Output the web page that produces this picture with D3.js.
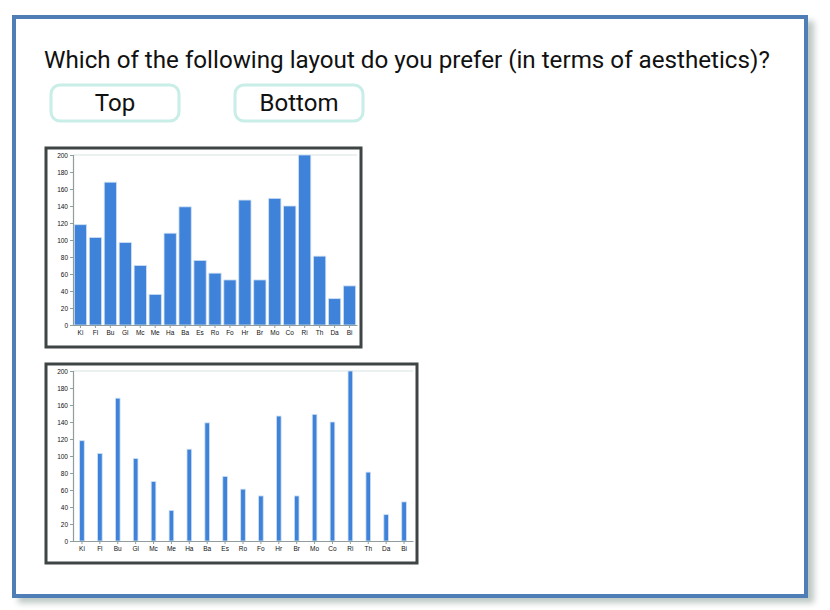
<!DOCTYPE html>
<html>
<head>
<meta charset="utf-8">
<script src="https://cdn.jsdelivr.net/npm/d3@7"></script>
<style>
  body { margin: 0; background: #fff; font-family: Roboto, sans-serif; }
</style>
</head>
<body>
<div id="chart"></div>
<script>
const categories = ["Ki", "Fl", "Bu", "Gl", "Mc", "Me", "Ha", "Ba", "Es", "Ro", "Fo", "Hr", "Br", "Mo", "Co", "Ri", "Th", "Da", "Bi"];
const values = [118, 103, 168, 97, 70, 36, 108, 139, 76, 61, 53, 147, 53, 149, 140, 200, 81, 31, 46];
const yTicks = [0, 20, 40, 60, 80, 100, 120, 140, 160, 180, 200];
const question = "Which of the following layout do you prefer (in terms of aesthetics)?";
const choices = ["Top", "Bottom"];

const width = 830;
const height = 610;

const svg = d3.select("#chart")
  .append("svg")
  .attr("width", width)
  .attr("height", height);

// Shadow behind card
const defs = svg.append("defs");
const blur = defs.append("filter").attr("id", "shadow")
  .attr("x", "-5%").attr("y", "-5%").attr("width", "115%").attr("height", "115%");
blur.append("feGaussianBlur").attr("stdDeviation", 3);

svg.append("rect")
  .attr("x", 18).attr("y", 21).attr("width", 796).attr("height", 582)
  .attr("fill", "#8fa29a").attr("opacity", 0.6)
  .attr("filter", "url(#shadow)");

// Card
svg.append("rect")
  .attr("x", 14).attr("y", 17).attr("width", 792).attr("height", 579)
  .attr("fill", "#fff")
  .attr("stroke", "#4f7db6").attr("stroke-width", 4);

svg.append("text")
  .attr("x", 44).attr("y", 68)
  .attr("font-family", "Roboto, sans-serif")
  .attr("font-size", 24.2)
  .attr("fill", "#111")
  .text(question);

const buttons = svg.selectAll("g.btn")
  .data(choices)
  .join("g")
  .attr("class", "btn")
  .attr("transform", (d, i) => `translate(${51 + i * 184}, 85)`);

buttons.append("rect")
  .attr("width", 128).attr("height", 36).attr("rx", 9)
  .attr("fill", "#fff")
  .attr("stroke", "#c9ede7").attr("stroke-width", 3);

buttons.append("text")
  .attr("x", 64).attr("y", 26)
  .attr("text-anchor", "middle")
  .attr("font-family", "Roboto, sans-serif")
  .attr("font-size", 24)
  .attr("fill", "#111")
  .text(d => d);

function barChart(x0, y0, w, h, padding) {
  const g = svg.append("g").attr("transform", `translate(${x0},${y0})`);

  g.append("rect")
    .attr("x", 0).attr("y", 0).attr("width", w).attr("height", h)
    .attr("fill", "#fff")
    .attr("stroke", "#3f4444").attr("stroke-width", 3);

  const m = { left: 27, right: 4, top: 7, bottom: 22 };
  const x = d3.scaleBand()
    .domain(categories)
    .range([m.left, w - m.right])
    .paddingInner(padding)
    .paddingOuter(padding / 2);
  const y = d3.scaleLinear()
    .domain([0, 200])
    .range([h - m.bottom, m.top]);

  // top line of plot area
  g.append("line")
    .attr("x1", m.left).attr("x2", w - m.right)
    .attr("y1", y(200)).attr("y2", y(200))
    .attr("stroke", "#e4ecec").attr("stroke-width", 1.5);

  g.selectAll("rect.bar")
    .data(values)
    .join("rect")
    .attr("class", "bar")
    .attr("x", (d, i) => x(categories[i]))
    .attr("y", d => y(d))
    .attr("width", x.bandwidth())
    .attr("height", d => y(0) - y(d))
    .attr("fill", "#3f82d9")
    .attr("stroke", "#cfe0f2")
    .attr("stroke-width", 0.8);

  const yAxis = g.append("g")
    .attr("transform", `translate(${m.left},0)`)
    .call(d3.axisLeft(y).tickValues(yTicks).tickSize(3).tickPadding(2));
  const xAxis = g.append("g")
    .attr("transform", `translate(0,${h - m.bottom})`)
    .call(d3.axisBottom(x).tickSize(3).tickPadding(2).tickSizeOuter(0));

  [yAxis, xAxis].forEach(a => {
    a.select(".domain").attr("stroke", "#8f9e9c").attr("stroke-width", 1.2);
    a.selectAll(".tick line").attr("stroke", "#8f9e9c");
    a.selectAll("text")
      .attr("font-family", "Helvetica, Arial, sans-serif")
      .attr("font-size", 6.5)
      .attr("fill", "#111");
  });
}

barChart(46, 148, 315, 199, 0.18);
barChart(46, 364, 371, 199, 0.74);
</script>
</body>
</html>
